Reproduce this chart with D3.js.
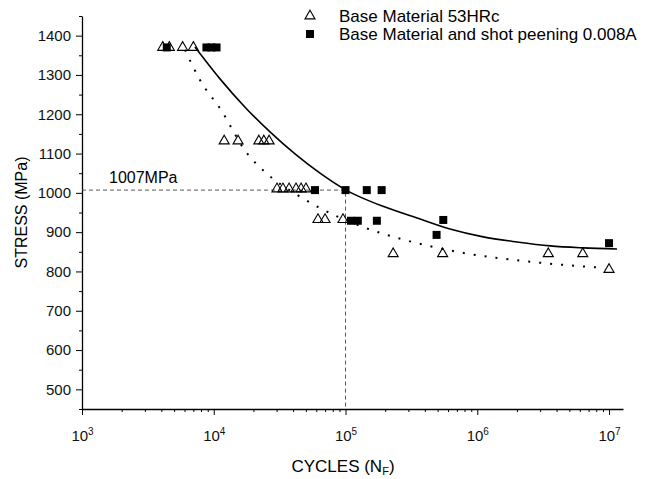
<!DOCTYPE html>
<html>
<head>
<meta charset="utf-8">
<script src="https://cdn.jsdelivr.net/npm/d3@7"></script>
<style>
	body { margin: 0; background: #fff; }
	svg { display: block; font-family: "Liberation Sans", Arial, sans-serif; }
	.axis path, .axis line { stroke: #000; }
	.axis text { fill: #111; }
</style>
</head>
<body>
<div id="chart"></div>
<script>
// data: [cycles, stress MPa]
const baseMaterial = [
	[4100, 1370], [4600, 1370], [5800, 1370], [7000, 1370],
	[12000, 1132], [15300, 1132], [22000, 1132], [24000, 1132], [26300, 1132],
	[30200, 1010], [33500, 1010], [37300, 1010], [42100, 1010], [46000, 1010], [50100, 1010],
	[61800, 932], [69900, 932], [95700, 932],
	[230000, 845], [546000, 845], [3460000, 845], [6320000, 845], [10000000, 805]
];
const shotPeened = [
	[4400, 1370], [8800, 1370], [9600, 1370], [10500, 1370],
	[58700, 1007], [100000, 1007], [145000, 1007], [188000, 1007],
	[110000, 929], [124000, 929], [173000, 929],
	[491000, 893], [552000, 931], [10000000, 872]
];
// fitted curves
const shotPeenedFit = [
	[7200, 1371], [11150, 1290], [17270, 1218], [26730, 1155], [41370, 1099],
	[64040, 1050], [100900, 1007], [140600, 984], [192600, 966], [349000, 936],
	[621000, 908], [1110000, 888], [2000000, 875], [3570000, 865], [6350000, 860],
	[11500000, 857]
];
const baseMaterialFit = [
	[6050, 1364], [7860, 1287], [11350, 1211], [17570, 1104], [24490, 1053],
	[42840, 995], [61840, 964], [128900, 916], [282900, 880], [702000, 850],
	[2650000, 824], [8250000, 810]
];
const stressTicks = [500, 600, 700, 800, 900, 1000, 1100, 1200, 1300, 1400];
const stressMinor = [450, 550, 650, 750, 850, 950, 1050, 1150, 1250, 1350, 1450];
const cycleTicks = [1e3, 1e4, 1e5, 1e6, 1e7];
const legendLabels = ['Base Material 53HRc', 'Base Material and shot peening 0.008A'];
const refStress = 1007;
const refCycles = 1e5;

// dimension stuff
const width = 648;
const height = 479;
const marginTop = 16;
const marginBottom = 70;
const marginLeft = 82;
const marginRight = 25;

const scaleX = d3.scaleLog()
	.domain([1e3, Math.pow(10, 7.106)])
	.range([marginLeft, width - marginRight]);
const scaleY = d3.scaleLinear()
	.domain([450, 1450])
	.range([height - marginBottom, marginTop]);

const cycleMinor = [];
cycleTicks.forEach(t => {
	for (let k = 2; k <= 9; k++) if (t * k <= scaleX.domain()[1]) cycleMinor.push(t * k);
});

const $svg = d3.select('#chart').append('svg')
	.attr('width', width)
	.attr('height', height);

// axes
const $yMinor = $svg.append('g')
	.attr('class', 'axis')
	.attr('transform', `translate(${marginLeft},0)`)
	.call(d3.axisLeft(scaleY).tickValues(stressMinor).tickSize(3).tickFormat(''));
$yMinor.select('.domain').remove();

$svg.append('g')
	.attr('class', 'axis')
	.attr('transform', `translate(${marginLeft},0)`)
	.call(d3.axisLeft(scaleY)
		.tickValues(stressTicks)
		.tickSize(6)
		.tickSizeOuter(0)
		.tickPadding(5)
		.tickFormat(d3.format('d')))
	.call(g => g.selectAll('text').attr('font-size', 15))
	.call(g => g.select('.domain').attr('stroke-width', 1.3));

const $xMinor = $svg.append('g')
	.attr('class', 'axis')
	.attr('transform', `translate(0,${height - marginBottom})`)
	.call(d3.axisBottom(scaleX).tickValues(cycleMinor).tickSize(3).tickFormat(''));
$xMinor.select('.domain').remove();

$svg.append('g')
	.attr('class', 'axis')
	.attr('transform', `translate(0,${height - marginBottom})`)
	.call(d3.axisBottom(scaleX)
		.tickValues(cycleTicks)
		.tickSize(6)
		.tickSizeOuter(0)
		.tickPadding(15)
		.tickFormat(''))
	.call(g => g.select('.domain').attr('stroke-width', 1.3))
	.call(g => g.selectAll('.tick text')
		.attr('font-size', 15)
		.text('10')
		.append('tspan')
		.attr('dy', '-0.55em')
		.attr('font-size', 10)
		.text(d => Math.round(Math.log10(d))));

// axis titles
const $xTitle = $svg.append('text')
	.attr('x', 343)
	.attr('y', 472)
	.attr('text-anchor', 'middle')
	.attr('font-size', 17)
	.text('CYCLES (N');
$xTitle.append('tspan')
	.attr('font-size', 11)
	.attr('dy', 3)
	.text('F');
$xTitle.append('tspan')
	.attr('dy', -3)
	.text(')');

$svg.append('text')
	.attr('transform', `translate(27,${scaleY(950)}) rotate(-90)`)
	.attr('text-anchor', 'middle')
	.attr('font-size', 16)
	.text('STRESS (MPa)');

// reference lines at 1007 MPa
$svg.append('path')
	.attr('d', `M${scaleX.range()[0]},${scaleY(refStress)}H${scaleX(refCycles)}V${scaleY.range()[0]}`)
	.attr('fill', 'none')
	.attr('stroke', '#444')
	.attr('stroke-width', 0.9)
	.attr('stroke-dasharray', '4,3');

$svg.append('text')
	.attr('x', 109)
	.attr('y', scaleY(refStress) - 7)
	.attr('font-size', 16)
	.text(`${refStress}MPa`);

// fitted curves
const line = d3.line()
	.x(d => scaleX(d[0]))
	.y(d => scaleY(d[1]))
	.curve(d3.curveMonotoneX);

$svg.append('path')
	.datum(shotPeenedFit)
	.attr('d', line)
	.attr('fill', 'none')
	.attr('stroke', '#000')
	.attr('stroke-width', 1.6);

$svg.append('path')
	.datum(baseMaterialFit)
	.attr('d', line)
	.attr('fill', 'none')
	.attr('stroke', '#000')
	.attr('stroke-width', 2)
	.attr('stroke-dasharray', '2,9');

// points
const triangle = d3.symbol(d3.symbolTriangle, 44);
const square = d3.symbol(d3.symbolSquare, 64);

$svg.append('g')
	.selectAll('path')
	.data(baseMaterial)
	.join('path')
	.attr('transform', d => `translate(${scaleX(d[0])},${scaleY(d[1])})`)
	.attr('d', triangle)
	.attr('fill', 'none')
	.attr('stroke', '#000')
	.attr('stroke-width', 1.1);

$svg.append('g')
	.selectAll('path')
	.data(shotPeened)
	.join('path')
	.attr('transform', d => `translate(${scaleX(d[0])},${scaleY(d[1])})`)
	.attr('d', square)
	.attr('fill', '#000');

// legend
const $legend = $svg.append('g').attr('transform', 'translate(310,16)');
const $items = $legend.selectAll('g')
	.data(legendLabels)
	.join('g')
	.attr('transform', (d, i) => `translate(0,${i * 18})`);
$items.append('path')
	.attr('d', (d, i) => i === 0 ? triangle() : square())
	.attr('fill', (d, i) => i === 0 ? 'none' : '#000')
	.attr('stroke', (d, i) => i === 0 ? '#000' : 'none')
	.attr('stroke-width', 1.1);
$items.append('text')
	.attr('x', 29)
	.attr('dy', '0.36em')
	.attr('font-size', 17)
	.text(d => d);
</script>
</body>
</html>
